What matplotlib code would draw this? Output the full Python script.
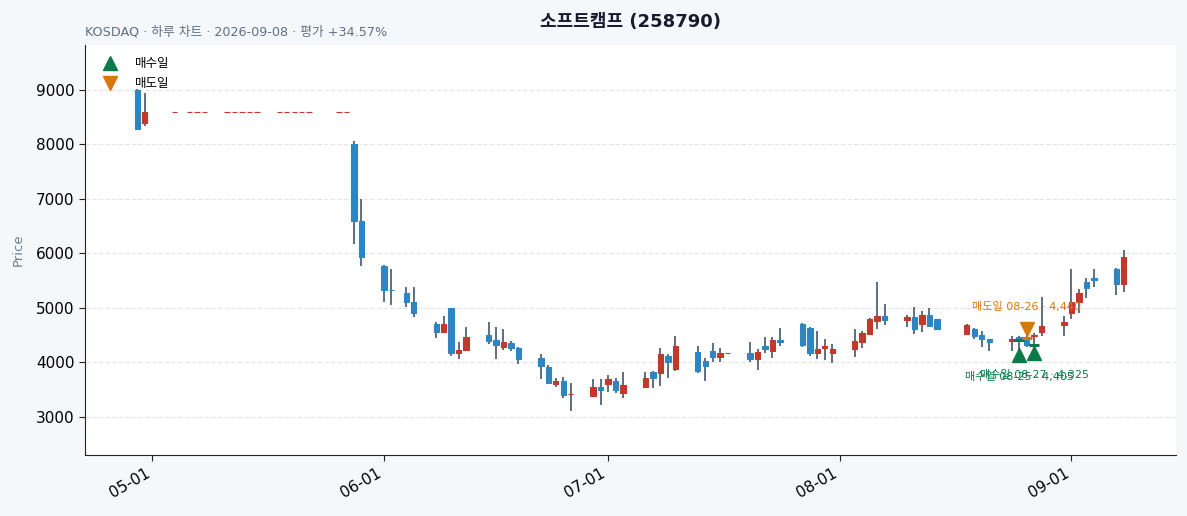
import matplotlib
matplotlib.use("Agg")
import matplotlib.pyplot as plt
import matplotlib.dates as mdates
from matplotlib.lines import Line2D
import numpy as np
import pandas as pd

plt.rcParams['font.family'] = ['DejaVu Sans', 'Noto Sans CJK KR']
plt.rcParams['axes.unicode_minus'] = False

# ---------------- data ----------------
dates = [
    "2026-04-29", "2026-04-30",
    "2026-05-04", "2026-05-06", "2026-05-07", "2026-05-08",
    "2026-05-11", "2026-05-12", "2026-05-13", "2026-05-14", "2026-05-15",
    "2026-05-18", "2026-05-19", "2026-05-20", "2026-05-21", "2026-05-22",
    "2026-05-26", "2026-05-27", "2026-05-28", "2026-05-29",
    "2026-06-01", "2026-06-02", "2026-06-04", "2026-06-05",
    "2026-06-08", "2026-06-09", "2026-06-10", "2026-06-11", "2026-06-12",
    "2026-06-15", "2026-06-16", "2026-06-17", "2026-06-18", "2026-06-19",
    "2026-06-22", "2026-06-23", "2026-06-24", "2026-06-25", "2026-06-26",
    "2026-06-29", "2026-06-30", "2026-07-01", "2026-07-02", "2026-07-03",
    "2026-07-06", "2026-07-07", "2026-07-08", "2026-07-09", "2026-07-10",
    "2026-07-13", "2026-07-14", "2026-07-15", "2026-07-16", "2026-07-17",
    "2026-07-20", "2026-07-21", "2026-07-22", "2026-07-23", "2026-07-24",
    "2026-07-27", "2026-07-28", "2026-07-29", "2026-07-30", "2026-07-31",
    "2026-08-03", "2026-08-04", "2026-08-05", "2026-08-06", "2026-08-07",
    "2026-08-10", "2026-08-11", "2026-08-12", "2026-08-13", "2026-08-14",
    "2026-08-18", "2026-08-19", "2026-08-20", "2026-08-21",
    "2026-08-24", "2026-08-25", "2026-08-26", "2026-08-27", "2026-08-28",
    "2026-08-31", "2026-09-01", "2026-09-02", "2026-09-03", "2026-09-04",
    "2026-09-07", "2026-09-08",
]
opens = [
    9000, 8390,
    8600, 8600, 8600, 8600,
    8600, 8600, 8600, 8600, 8600,
    8600, 8600, 8600, 8600, 8600,
    8600, 8600, 8000, 6600,
    5760, 5335, 5270, 5100,
    4705, 4555, 5000, 4170, 4220,
    4505, 4410, 4290, 4350, 4260,
    4075, 3920, 3605, 3660, 3415,
    3390, 3550, 3610, 3660, 3445,
    3555, 3820, 3800, 4115, 3880,
    4190, 4020, 4210, 4090, 4170,
    4170, 4060, 4300, 4200, 4415,
    4705, 4635, 4180, 4255, 4180,
    4240, 4380, 4515, 4755, 4855,
    4770, 4830, 4700, 4870, 4805,
    4515, 4610, 4505, 4430,
    4385, 4470, 4415, 4475, 4550,
    4685, 4915, 5100, 5480, 5555,
    5710, 5435,
]
highs = [
    9020, 8940,
    8600, 8600, 8600, 8600,
    8600, 8600, 8600, 8600, 8600,
    8600, 8600, 8600, 8600, 8600,
    8600, 8600, 8070, 7000,
    5790, 5710, 5380, 5380,
    4740, 4860, 5005, 4370, 4645,
    4750, 4645, 4610, 4395, 4280,
    4150, 3955, 3710, 3730, 3630,
    3690, 3690, 3765, 3710, 3820,
    3830, 3845, 4260, 4150, 4490,
    4300, 4075, 4350, 4260, 4170,
    4365, 4240, 4460, 4460, 4625,
    4720, 4645, 4585, 4425, 4335,
    4610, 4580, 4810, 5480, 5070,
    4870, 5010, 4950, 4995, 4805,
    4705, 4640, 4585, 4430,
    4475, 4485, 4520, 4535, 5205,
    4855, 5710, 5345, 5555, 5710,
    5730, 6065,
]
lows = [
    8280, 8330,
    8600, 8600, 8600, 8600,
    8600, 8600, 8600, 8600, 8600,
    8600, 8600, 8600, 8600, 8600,
    8600, 8600, 6170, 5770,
    5100, 5060, 5025, 4840,
    4445, 4555, 4120, 4060, 4220,
    4335, 4060, 4230, 4200, 3965,
    3690, 3620, 3545, 3345, 3110,
    3370, 3215, 3465, 3435, 3345,
    3555, 3525, 3570, 3710, 3850,
    3800, 3650, 4015, 4015, 4170,
    4015, 3860, 4170, 4075, 4300,
    4290, 4125, 4060, 4045, 3985,
    4105, 4270, 4505, 4610, 4690,
    4645, 4515, 4555, 4645, 4610,
    4505, 4425, 4280, 4215,
    4215, 4220, 4290, 4265, 4485,
    4475, 4790, 4900, 5180, 5380,
    5240, 5290,
]
closes = [
    8290, 8600,
    8600, 8600, 8600, 8600,
    8600, 8600, 8600, 8600, 8600,
    8600, 8600, 8600, 8600, 8600,
    8600, 8600, 6590, 5925,
    5320, 5320, 5100, 4900,
    4555, 4705, 4170, 4230, 4460,
    4400, 4310, 4380, 4255, 4070,
    3940, 3630, 3650, 3405, 3415,
    3545, 3500, 3690, 3495, 3585,
    3710, 3720, 4150, 4015, 4300,
    3850, 3940, 4090, 4170, 4170,
    4060, 4185, 4240, 4415, 4370,
    4310, 4180, 4240, 4300, 4240,
    4395, 4535, 4790, 4855, 4770,
    4830, 4610, 4870, 4675, 4610,
    4680, 4490, 4425, 4370,
    4425, 4430, 4320, 4495, 4670,
    4735, 5100, 5270, 5370, 5515,
    5435, 5925,
]

buy_dates = ["2026-08-25", "2026-08-27"]
buy_prices = [4405, 4325]
sell_dates = ["2026-08-26"]
sell_prices = [4440]

title = "소프트캠프 (258790)"
subtitle = "KOSDAQ · 하루 차트 · 2026-09-08 · 평가 +34.57%"
y_ticks = [3000, 4000, 5000, 6000, 7000, 8000, 9000]

# ---------------- styling ----------------
UP = "#c0392b"
DOWN = "#2e86c1"
WICK = "#5f6f80"
GREEN = "#0b7a4b"
ORANGE = "#d9780a"
FIG_BG = "#f5f8fb"

df = pd.DataFrame({"date": pd.to_datetime(dates), "open": opens, "high": highs,
                   "low": lows, "close": closes})
x = mdates.date2num(df["date"])
o = df["open"].to_numpy(float)
h = df["high"].to_numpy(float)
l = df["low"].to_numpy(float)
c = df["close"].to_numpy(float)
up = c >= o
cols = np.where(up, UP, DOWN)

fig = plt.figure(figsize=(11.87, 5.16), dpi=100, facecolor=FIG_BG)
ax = fig.add_axes([85 / 1187, 61 / 516, (1176 - 85) / 1187, (455 - 45) / 516])
ax.set_facecolor("white")

ax.vlines(x, l, h, color=WICK, linewidth=1.4, zorder=2)
ax.bar(x, np.abs(c - o), bottom=np.minimum(o, c), width=0.72, color=cols,
       edgecolor=cols, linewidth=0.8, zorder=3)

# trade markers
bx = mdates.date2num(pd.to_datetime(buy_dates))
sx = mdates.date2num(pd.to_datetime(sell_dates))
low_map = dict(zip(x, l))
high_map = dict(zip(x, h))
b_y = [low_map[v] * 0.98 for v in bx]
s_y = [high_map[v] * 1.02 for v in sx]

ax.plot(bx, buy_prices, linestyle="none", marker="_", markersize=7, mew=2.2,
        color=GREEN, zorder=5)
ax.plot(sx, sell_prices, linestyle="none", marker="_", markersize=7, mew=2.2,
        color=ORANGE, zorder=5)
ax.plot(bx, b_y, linestyle="none", marker="^", markersize=10, color=GREEN, zorder=6)
ax.plot(sx, s_y, linestyle="none", marker="v", markersize=10, color=ORANGE, zorder=6)

for xx, yy, d, p in zip(bx, b_y, buy_dates, buy_prices):
    ax.annotate(f"매수일 {d[5:]} · {p:,}", (xx, yy), xytext=(0, -16),
                textcoords="offset points", ha="center", va="center",
                fontsize=8, color=GREEN, zorder=7)
for xx, yy, d, p in zip(sx, s_y, sell_dates, sell_prices):
    ax.annotate(f"매도일 {d[5:]} · {p:,}", (xx, yy), xytext=(0, 16),
                textcoords="offset points", ha="center", va="center",
                fontsize=8, color=ORANGE, zorder=7)

# axes formatting
ax.set_ylim(2300, 9825)
ax.set_yticks(y_ticks)
ax.margins(x=0.05)
ax.xaxis.set_major_locator(mdates.MonthLocator())
ax.xaxis.set_major_formatter(mdates.DateFormatter("%m-%d"))
for lab in ax.get_xticklabels():
    lab.set_rotation(30)
    lab.set_ha("right")
ax.tick_params(axis="both", labelsize=11, length=4, color="#222222")
ax.grid(axis="y", linestyle="--", color="#e6e6e6", linewidth=0.9, zorder=0)
ax.set_axisbelow(True)
for s in ["top", "right"]:
    ax.spines[s].set_visible(False)
for s in ["left", "bottom"]:
    ax.spines[s].set_color("#222222")
ax.set_ylabel("Price", fontsize=9.5, color="#6b7d93", labelpad=8)

handles = [Line2D([], [], linestyle="none", marker="^", markersize=10, color=GREEN),
           Line2D([], [], linestyle="none", marker="v", markersize=10, color=ORANGE)]
ax.legend(handles, ["매수일", "매도일"], loc="upper left", frameon=False,
          fontsize=9, handletextpad=1.0, borderaxespad=0.6, labelspacing=0.55)

fig.text((85 + 1176) / 2 / 1187, 1 - 22 / 516, title, ha="center", va="center",
         fontsize=13, fontweight="bold", color="#1a1a2e")
fig.text(85 / 1187, 1 - 32 / 516, subtitle, ha="left", va="center",
         fontsize=9.2, color="#5f6f82")

fig.savefig("out.png", dpi=100, facecolor=FIG_BG)
